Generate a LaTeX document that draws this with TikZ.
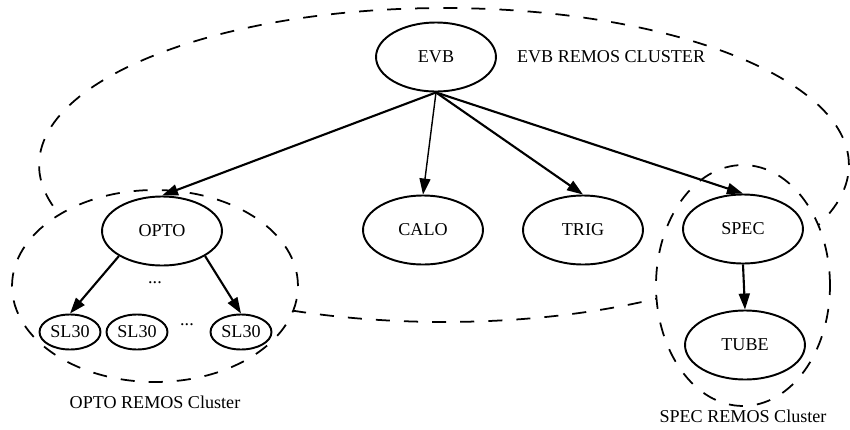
\documentclass[tikz,border=0pt]{standalone}
\usepackage{fontspec}
\setmainfont{Liberation Serif}
\usetikzlibrary{shapes.geometric, arrows.meta, positioning}
\definecolor{lineColor}{RGB}{0, 0, 0}
\tikzset{
    font=\fontsize{10.3}{12}\selectfont,
    % --- host nodes ---
    hostNode/.style={
        ellipse, draw=lineColor, line width=1.1pt, fill=white,
        minimum width=2.4cm, minimum height=1.38cm, inner sep=0pt
    },
    % --- SL30 leaves ---
    leafNode/.style={
        ellipse, draw=lineColor, line width=1.1pt, fill=white,
        minimum width=1.22cm, minimum height=0.7cm, inner sep=0pt
    },
    % --- REMOS clusters ---
    clusterNode/.style={
        ellipse, draw=lineColor, line width=1pt, fill=white,
        dash pattern=on 8pt off 8pt, inner sep=0pt
    },
    clusterLabel/.style={
        inner sep=1pt
    },
    % --- edges ---
    conn/.style={
        draw=lineColor, line width=1.2pt,
        -{Triangle[length=3.2mm, width=2.2mm]}
    },
    connThin/.style={
        conn, line width=0.8pt
    }
}

\begin{document}
\begin{tikzpicture}[x=0.02cm, y=-0.02cm]

	\useasboundingbox (0, 0) rectangle (850, 430);

	% =========================================
	% 1. clusters
	% =========================================

	% big one first, the two small ones hide part of it
	\node[clusterNode, minimum width=16.2cm, minimum height=6.28cm] (evbCluster) at (444, 165) {};
	\node[clusterNode, minimum width=5.72cm, minimum height=3.84cm] (optoCluster) at (155, 286) {};
	\node[clusterNode, minimum width=3.48cm, minimum height=4.82cm] (specCluster) at (743, 285.5) {};

	% =========================================
	% 2. nodes
	% =========================================

	\node[hostNode] (evb) at (436, 57) {EVB};
	\node[clusterLabel, right=0.36cm of evb] (evbLabel) {EVB REMOS CLUSTER};

	\node[hostNode] (opto) at (162, 231) {OPTO};
	\node[hostNode] (calo) at (423, 230) {CALO};
	\node[hostNode] (trig) at (583, 230) {TRIG};
	\node[hostNode] (spec) at (743, 229) {SPEC};
	\node[hostNode] (tube) at (745, 345) {TUBE};

	\node[leafNode] (sl1) at (70, 332) {SL30};
	\node[leafNode] (sl2) at (137, 332) {SL30};
	\node[leafNode] (sl3) at (241, 332) {SL30};

	\node[inner sep=0pt] (dotsLow) at (187, 325) {...};
	\node[inner sep=0pt] (dotsHigh) at (155, 283) {...};

	\node[clusterLabel, below=0.22cm of optoCluster] (optoLabel) {OPTO REMOS Cluster};
	\node[clusterLabel, below=0.02cm of specCluster] (specLabel) {SPEC REMOS Cluster};

	% =========================================
	% 3. edges
	% =========================================

	\draw[conn] (evb.south) -- (opto.north);
	\draw[connThin] (evb.south) -- (calo.north);
	\draw[conn] (evb.south) -- (trig.north);
	\draw[conn] (evb.south) -- (spec.north);

	\draw[conn] (opto.south west) -- (sl1.north);
	\draw[conn] (opto.south east) -- (sl3.north);

	\draw[conn] (spec.south) -- (tube.north);

\end{tikzpicture}
\end{document}
